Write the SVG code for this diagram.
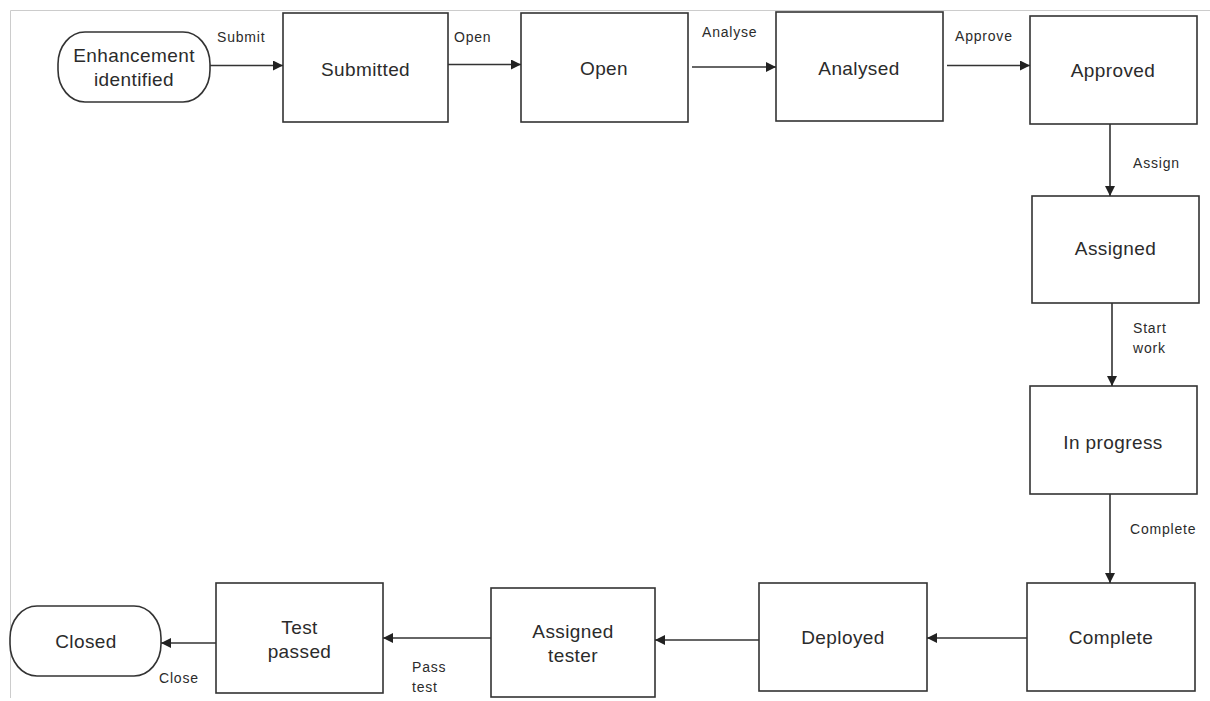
<svg xmlns="http://www.w3.org/2000/svg" width="1210" height="701" viewBox="0 0 1210 701">
  <style>
    .node { fill: #ffffff; stroke: #333333; stroke-width: 1.6; }
    .ntext { font-family: "Liberation Sans", Arial, sans-serif; font-size: 19px; letter-spacing: 0.4px; fill: #2b2b2b; text-anchor: middle; }
    .edge { fill: none; stroke: #333333; stroke-width: 1.6; marker-end: url(#arrow); }
    .ltext { font-family: "Liberation Sans", Arial, sans-serif; font-size: 14px; letter-spacing: 0.8px; fill: #2b2b2b; }
    .frame { fill: none; stroke: #cccccc; stroke-width: 1; }
  </style>
  <defs>
    <marker id="arrow" viewBox="0 0 10 10" refX="10" refY="5" markerWidth="10" markerHeight="10" markerUnits="userSpaceOnUse" orient="auto">
      <path d="M0,0 L10,5 L0,10 Z" fill="#222222"/>
    </marker>
  </defs>

  <rect width="1210" height="701" fill="#ffffff"/>
  <path class="frame" d="M10.5,698 V10.5 H1210"/>

  <!-- state nodes -->
  <g id="enhancement-identified">
    <rect class="node" x="58" y="32" width="152" height="70" rx="27" ry="32"/>
    <text class="ntext" x="134" y="62">Enhancement</text>
    <text class="ntext" x="134" y="86">identified</text>
  </g>
  <g id="submitted">
    <rect class="node" x="283" y="13" width="165" height="109"/>
    <text class="ntext" x="365.5" y="76">Submitted</text>
  </g>
  <g id="open">
    <rect class="node" x="521" y="13" width="167" height="109"/>
    <text class="ntext" x="604" y="75">Open</text>
  </g>
  <g id="analysed">
    <rect class="node" x="776" y="12" width="167" height="109"/>
    <text class="ntext" x="859" y="75">Analysed</text>
  </g>
  <g id="approved">
    <rect class="node" x="1030" y="16" width="167" height="108"/>
    <text class="ntext" x="1113" y="77">Approved</text>
  </g>
  <g id="assigned">
    <rect class="node" x="1032" y="196" width="167" height="107"/>
    <text class="ntext" x="1115.5" y="255">Assigned</text>
  </g>
  <g id="in-progress">
    <rect class="node" x="1030" y="386" width="167" height="108"/>
    <text class="ntext" x="1113" y="449">In progress</text>
  </g>
  <g id="complete">
    <rect class="node" x="1027" y="583" width="168" height="108"/>
    <text class="ntext" x="1111" y="644">Complete</text>
  </g>
  <g id="deployed">
    <rect class="node" x="759" y="583" width="168" height="108"/>
    <text class="ntext" x="843" y="644">Deployed</text>
  </g>
  <g id="assigned-tester">
    <rect class="node" x="491" y="588" width="164" height="109"/>
    <text class="ntext" x="573" y="638">Assigned</text>
    <text class="ntext" x="573" y="662">tester</text>
  </g>
  <g id="test-passed">
    <rect class="node" x="216" y="583" width="167" height="110"/>
    <text class="ntext" x="299.5" y="634">Test</text>
    <text class="ntext" x="299.5" y="658">passed</text>
  </g>
  <g id="closed">
    <rect class="node" x="10" y="606" width="151" height="70" rx="27" ry="32"/>
    <text class="ntext" x="86" y="648">Closed</text>
  </g>

  <!-- transitions -->
  <g id="connectors">
    <path class="edge" d="M210,65.5 H283"/>
    <path class="edge" d="M448,64.5 H521"/>
    <path class="edge" d="M692,67 H776"/>
    <path class="edge" d="M947,65.5 H1030"/>
    <path class="edge" d="M1110,124 V196"/>
    <path class="edge" d="M1112,303 V386"/>
    <path class="edge" d="M1110,494 V583"/>
    <path class="edge" d="M1027,638 H927"/>
    <path class="edge" d="M759,640 H655"/>
    <path class="edge" d="M491,638 H383"/>
    <path class="edge" d="M216,643 H161"/>

    <text class="ltext" x="217" y="42">Submit</text>
    <text class="ltext" x="454" y="42">Open</text>
    <text class="ltext" x="702" y="37">Analyse</text>
    <text class="ltext" x="955" y="41">Approve</text>
    <text class="ltext" x="1133" y="168">Assign</text>
    <text class="ltext" x="1133" y="333">Start</text>
    <text class="ltext" x="1133" y="353">work</text>
    <text class="ltext" x="1130" y="534">Complete</text>
    <text class="ltext" x="412" y="672">Pass</text>
    <text class="ltext" x="412" y="692">test</text>
    <text class="ltext" x="159" y="683">Close</text>
  </g>
</svg>
